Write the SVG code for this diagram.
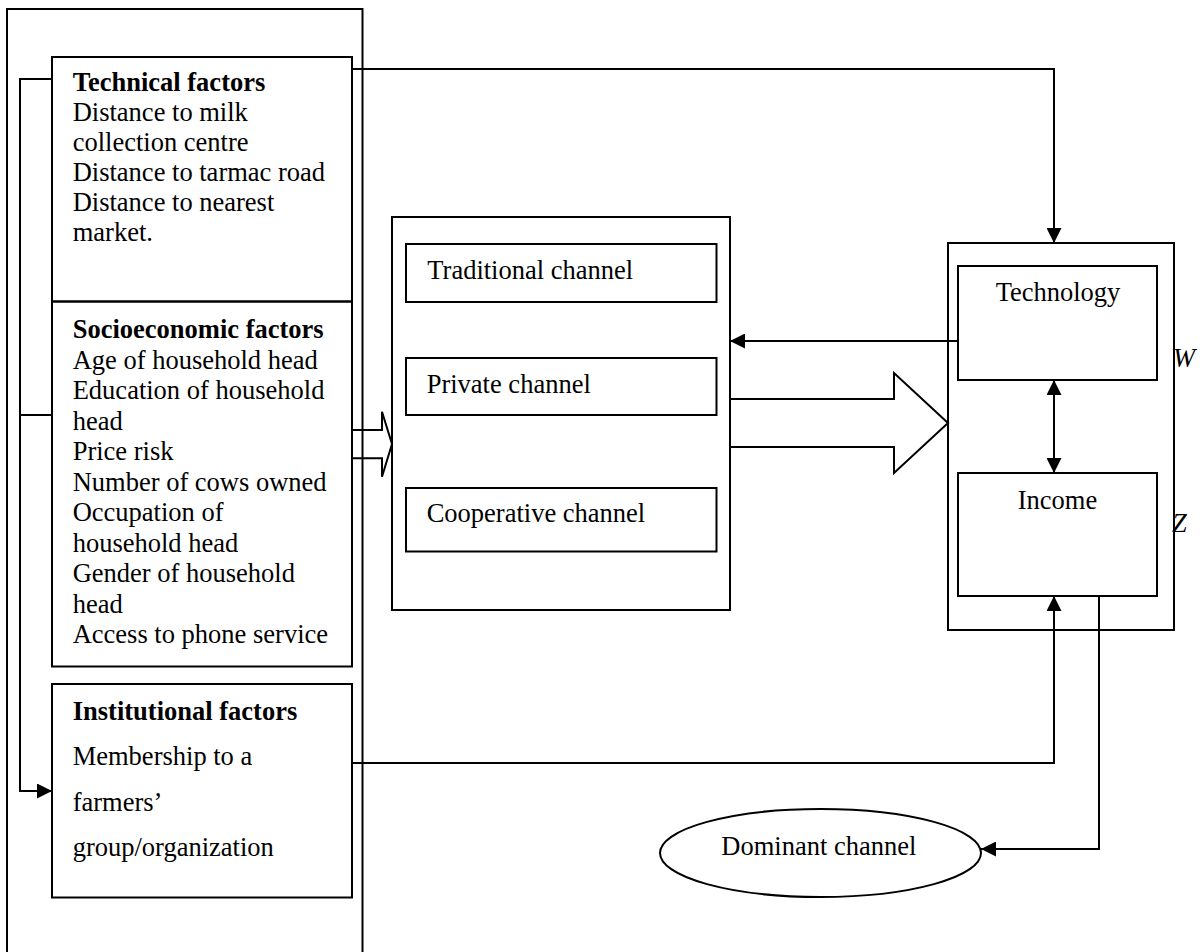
<svg xmlns="http://www.w3.org/2000/svg" width="1200" height="952" viewBox="0 0 1200 952">
<defs>
<style>
.box{fill:none;stroke:#000;stroke-width:2}
.ln{fill:none;stroke:#000;stroke-width:2}
.t{font-family:"Liberation Serif","Times New Roman",serif;font-size:26.5px;fill:#000}
.b{font-weight:bold}
.i{font-style:italic}
.c{text-anchor:middle}
</style>
<marker id="ah" viewBox="0 0 15 15" refX="15" refY="7.5" markerWidth="15" markerHeight="15" markerUnits="userSpaceOnUse" orient="auto-start-reverse">
<path d="M0,0 L15,7.5 L0,15 Z" fill="#000"/>
</marker>
</defs>
<rect width="1200" height="952" fill="#fff"/>

<g id="outer-left">
<path class="box" d="M7,960 V9 H362.5 V960"/>
</g>

<g id="technical">
<rect class="box" x="52" y="57" width="300" height="244.5"/>
<text class="t" x="72.7"><tspan class="b" y="90.7">Technical factors</tspan><tspan x="72.7" y="120.7">Distance to milk</tspan><tspan x="72.7" y="150.7">collection centre</tspan><tspan x="72.7" y="180.7">Distance to tarmac road</tspan><tspan x="72.7" y="210.7">Distance to nearest</tspan><tspan x="72.7" y="240.7">market.</tspan></text>
</g>

<g id="socioeconomic">
<rect class="box" x="52" y="301.5" width="300" height="365"/>
<text class="t" x="72.7"><tspan class="b" y="338">Socioeconomic factors</tspan><tspan x="72.7" y="368.5">Age of household head</tspan><tspan x="72.7" y="399">Education of household</tspan><tspan x="72.7" y="429.5">head</tspan><tspan x="72.7" y="460">Price risk</tspan><tspan x="72.7" y="490.5">Number of cows owned</tspan><tspan x="72.7" y="521">Occupation of</tspan><tspan x="72.7" y="551.5">household head</tspan><tspan x="72.7" y="582">Gender of household</tspan><tspan x="72.7" y="612.5">head</tspan><tspan x="72.7" y="643">Access to phone service</tspan></text>
</g>

<g id="institutional">
<rect class="box" x="52" y="684" width="300" height="213.5"/>
<text class="t" x="72.7"><tspan class="b" y="720">Institutional factors</tspan><tspan x="72.7" y="765">Membership to a</tspan><tspan x="72.7" y="810.5">farmers’</tspan><tspan x="72.7" y="856">group/organization</tspan></text>
</g>

<g id="channels">
<rect class="box" x="392" y="217" width="338" height="393"/>
</g>
<g id="traditional">
<rect class="box" x="406" y="244" width="310.5" height="58"/>
<text class="t" x="427.3" y="279.3">Traditional channel</text>
</g>
<g id="private">
<rect class="box" x="406" y="358" width="310.5" height="57"/>
<text class="t" x="426.7" y="393.3">Private channel</text>
</g>
<g id="cooperative">
<rect class="box" x="406" y="488" width="310.5" height="63.5"/>
<text class="t" x="426.7" y="521.7">Cooperative channel</text>
</g>

<g id="outer-right">
<rect class="box" x="948" y="243" width="226" height="387"/>
<text class="t i" x="1173" y="367.3">W</text>
<text class="t i" x="1172" y="531.7">Z</text>
</g>
<g id="technology">
<rect class="box" x="958" y="266" width="199" height="114"/>
<text class="t c" x="1058" y="300.7">Technology</text>
</g>
<g id="income">
<rect class="box" x="958" y="473" width="199" height="123"/>
<text class="t c" x="1057.5" y="509.3">Income</text>
</g>

<g id="dominant">
<ellipse class="box" cx="820.5" cy="853" rx="160.5" ry="44"/>
<text class="t c" x="818.8" y="855">Dominant channel</text>
</g>

<g id="connectors">
<path class="ln" d="M52,79 H20 V791 H52" marker-end="url(#ah)"/>
<path class="ln" d="M20,415 H52"/>
<path class="ln" d="M352,69 H1054 V243" marker-end="url(#ah)"/>
<path class="ln" d="M958,341 H730" marker-end="url(#ah)"/>
<path class="ln" d="M1054,380 V473" marker-start="url(#ah)" marker-end="url(#ah)"/>
<path class="ln" d="M352,763 H1054 V596" marker-end="url(#ah)"/>
<path class="ln" d="M1099,596 V849 H981" marker-end="url(#ah)"/>
<path class="ln" d="M352,430 H382 V411.7 L392,444 L382,476.7 V458.3 H352" fill="#fff"/>
<path class="ln" d="M730,399 H894 V373 L948,423 L894,473 V447 H730" fill="#fff"/>
</g>
</svg>
